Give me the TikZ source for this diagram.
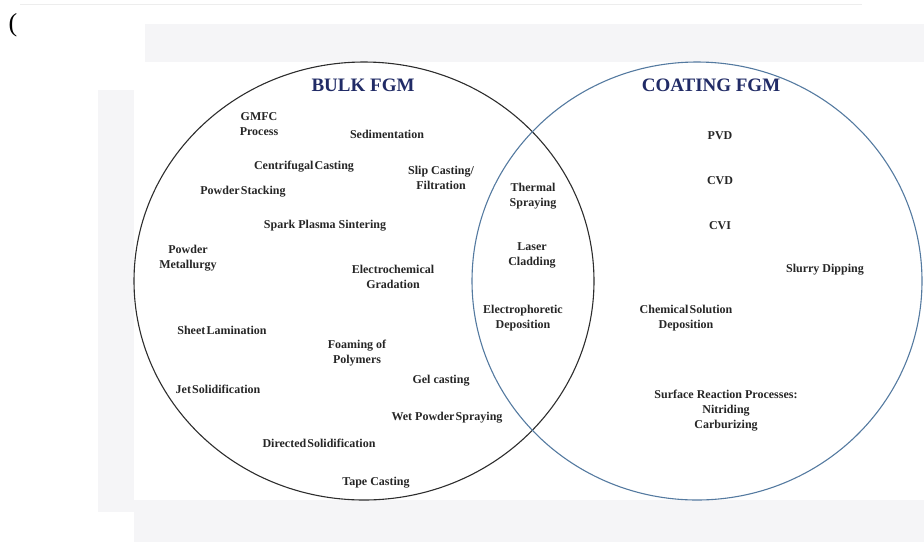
\documentclass[tikz,border=0pt]{standalone}
\usepackage{fontspec}
\setmainfont{Liberation Serif}
\definecolor{fgmnavy}{RGB}{33,43,102}
\definecolor{coatblue}{RGB}{84,122,160}
\definecolor{bulkline}{RGB}{45,45,45}
\definecolor{paleband}{RGB}{245,245,247}
\newcommand{\tsp}{\hspace{1.2pt}}
\begin{document}
\begin{tikzpicture}[x=1pt,y=-1pt,font=\bfseries\fontsize{12}{15}\selectfont,
  proc/.style={align=center,inner sep=1pt,text=black!85},
  title/.style={text=fgmnavy,font=\bfseries\fontsize{19}{22}\selectfont}]
\useasboundingbox (0,0) rectangle (924,542);
\fill[paleband] (145,24) rectangle (924,62);
\fill[paleband] (98,90) rectangle (134,512);
\fill[paleband] (134,500) rectangle (924,542);
\draw[black!7,line width=0.8pt](20,4)--(862,4);
\node[font=\fontsize{26}{28}\selectfont] (paren) at (13,25) {(};

% the two sets
\draw[bulkline,line width=1.1pt](364,281) ellipse [x radius=230pt,y radius=219pt];
\draw[coatblue,line width=1.1pt](697,281) ellipse [x radius=225pt,y radius=219pt];

\node[title] (bulk) at (363,85) {BULK FGM};
\node[title] (coat) at (711,85) {COATING FGM};

% bulk only
\node[proc] (gmfc) at (259,124) {GMFC\\Process};
\node[proc] (sedim) at (387,134) {Sedimentation};
\node[proc] (centri) at (304,167) {Centrifugal\tsp Casting};
\node[proc] (slip) at (441,178) {Slip Casting/\\Filtration};
\node[proc] (stack) at (243,192) {Powder\tsp Stacking};
\node[proc] (sps) at (325,226) {Spark Plasma Sintering};
\node[proc] (pm) at (188,258) {Powder\\Metallurgy};
\node[proc] (echem) at (393,277) {Electrochemical\\Gradation};
\node[proc] (sheet) at (222,330) {Sheet\tsp Lamination};
\node[proc] (foam) at (357,353) {Foaming of\\Polymers};
\node[proc] (gel) at (441,381) {Gel casting};
\node[proc] (jet) at (218,389) {Jet\tsp Solidification};
\node[proc] (wps) at (447,418) {Wet Powder\tsp Spraying};
\node[proc] (dirsol) at (319,443) {Directed\tsp Solidification};
\node[proc] (tape) at (376,483) {Tape Casting};

% both
\node[proc] (thermal) at (533,196) {Thermal\\Spraying};
\node[proc] (laser) at (532,255) {Laser\\Cladding};
\node[proc] (ephor) at (523,318) {Electrophoretic\\Deposition};

% coating only
\node[proc] (pvd) at (720,136) {PVD};
\node[proc] (cvd) at (720,181) {CVD};
\node[proc] (cvi) at (720,226) {CVI};
\node[proc] (slurry) at (825,270) {Slurry Dipping};
\node[proc] (csd) at (686,318) {Chemical\tsp Solution\\Deposition};
\node[proc] (surf) at (726,411) {Surface Reaction Processes:\\Nitriding\\Carburizing};
\end{tikzpicture}
\end{document}
